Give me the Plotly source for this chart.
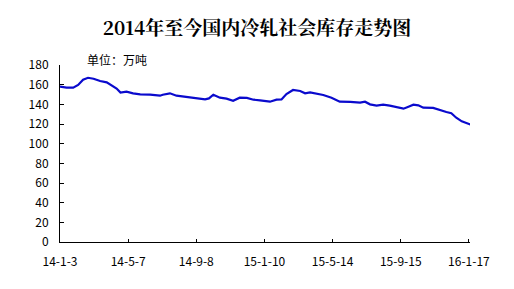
import plotly.graph_objects as go

dates = ["2014-01-03", "2014-01-15", "2014-01-27", "2014-02-05", "2014-02-14", "2014-02-23",
         "2014-03-05", "2014-03-17", "2014-03-29", "2014-04-10", "2014-04-16", "2014-04-23",
         "2014-05-04", "2014-05-16", "2014-05-29", "2014-06-16", "2014-07-04", "2014-07-09",
         "2014-07-22", "2014-08-03", "2014-08-21", "2014-09-09", "2014-09-24", "2014-10-01",
         "2014-10-09", "2014-10-21", "2014-11-02", "2014-11-14", "2014-11-26", "2014-12-09",
         "2014-12-21", "2015-01-02", "2015-01-20", "2015-02-01", "2015-02-10", "2015-02-19",
         "2015-03-03", "2015-03-16", "2015-03-25", "2015-04-03", "2015-04-15", "2015-04-27",
         "2015-05-12", "2015-05-27", "2015-06-15", "2015-07-03", "2015-07-12", "2015-07-21",
         "2015-08-02", "2015-08-14", "2015-08-26", "2015-09-07", "2015-09-20", "2015-09-29",
         "2015-10-08", "2015-10-17", "2015-10-26", "2015-11-13", "2015-11-25", "2015-12-07",
         "2015-12-16", "2015-12-25", "2016-01-04", "2016-01-13", "2016-01-21"]
values = [158.0, 157.0, 157.0, 159.7, 165.0, 167.0,
          166.0, 163.7, 162.4, 158.0, 156.0, 151.9,
          152.9, 151.2, 150.2, 149.8, 148.8, 149.8,
          151.2, 148.8, 147.5, 145.8, 145.1, 146.0,
          149.8, 146.8, 145.8, 143.7, 146.8, 146.5,
          144.7, 144.0, 142.7, 144.7, 145.0, 150.5,
          154.6, 153.6, 151.2, 152.2, 150.9, 149.5,
          146.8, 142.7, 142.4, 141.7, 142.7, 140.0,
          138.7, 139.7, 138.7, 137.0, 135.6, 137.6,
          139.7, 139.0, 136.6, 136.3, 133.9, 132.2,
          130.9, 126.4, 122.7, 121.0, 119.3]

tick_dates = ["2014-01-03", "2014-05-07", "2014-09-08", "2015-01-10",
              "2015-05-14", "2015-09-15", "2016-01-17"]
tick_labels = ["14-1-3", "14-5-7", "14-9-8", "15-1-10", "15-5-14", "15-9-15", "16-1-17"]

fig = go.Figure()
fig.add_trace(go.Scatter(x=dates, y=values, mode="lines",
                         line=dict(color="#0A0ACD", width=2.2), hoverinfo="skip"))

font = "Noto Sans CJK SC"
fig.update_layout(
    width=514, height=289,
    margin=dict(l=60, r=44, t=65, b=47),
    paper_bgcolor="white", plot_bgcolor="white",
    showlegend=False,
    title=dict(text="<b>2014年至今国内冷轧社会库存走势图</b>", x=0.5, xanchor="center",
               y=1 - 28 / 289, yanchor="middle",
               font=dict(family="Noto Serif CJK SC, Noto Sans CJK SC", size=19, color="black")),
    xaxis=dict(type="date", range=["2014-01-03", "2016-01-19"],
               tickvals=tick_dates, ticktext=tick_labels,
               showgrid=False, zeroline=False,
               showline=True, linecolor="black", linewidth=1,
               ticks="inside", ticklen=3, tickcolor="black",
               ticklabelstandoff=9,
               tickfont=dict(family=font, size=12, color="black")),
    yaxis=dict(range=[0, 180], tickvals=list(range(0, 181, 20)),
               showgrid=False, zeroline=False,
               showline=True, linecolor="black", linewidth=1,
               ticks="inside", ticklen=4, tickcolor="black",
               ticklabelstandoff=8,
               tickfont=dict(family=font, size=12, color="black")),
    annotations=[dict(text="单位：万吨", xref="paper", yref="paper",
                      x=(85 - 60) / 410, y=1 + (65 - 60) / 177,
                      xanchor="left", yanchor="middle", showarrow=False,
                      font=dict(family=font, size=12, color="black"))],
)

fig.write_html("out.html")
